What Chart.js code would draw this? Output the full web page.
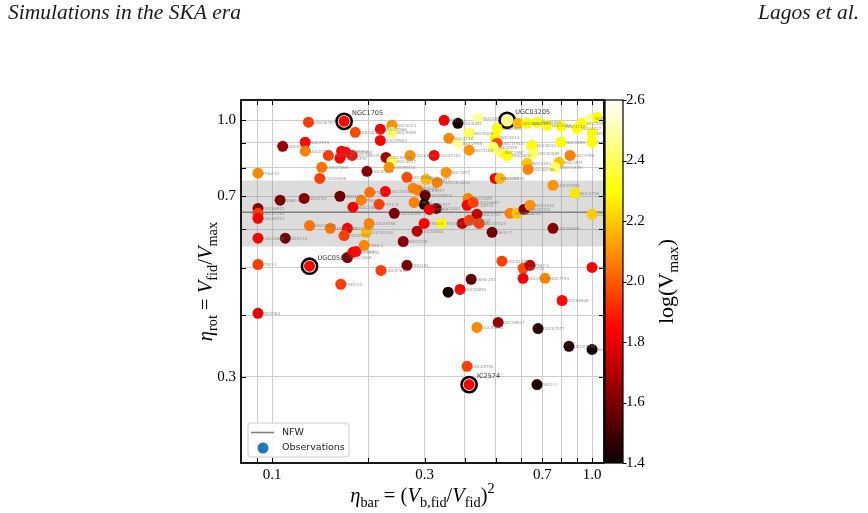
<!DOCTYPE html>
<html>
<head>
<meta charset="utf-8">
<script src="https://cdn.jsdelivr.net/npm/chart.js@4.4.1/dist/chart.umd.min.js"></script>
<style>
  html, body { margin: 0; padding: 0; background: #fff; }
  canvas { display: block; }
</style>
</head>
<body>
<canvas id="chart" width="868" height="513"></canvas>
<script>
// eta_bar = (V_b,fid / V_fid)^2 for each galaxy
const etaBar = [
  0.0904, 0.0904, 0.0904, 0.0904, 0.0904, 0.0904, 0.0904, 0.106, 0.110, 0.108,
  0.127, 0.127, 0.130, 0.126, 0.131, 0.131, 0.141, 0.143, 0.150, 0.152,
  0.163, 0.163, 0.165, 0.168, 0.172, 0.168, 0.164, 0.170, 0.178, 0.172,
  0.179, 0.183, 0.179, 0.182, 0.190, 0.194, 0.197, 0.198, 0.202, 0.226,
  0.216, 0.241, 0.219, 0.264, 0.218, 0.237, 0.237, 0.218, 0.227, 0.237,
  0.232, 0.270, 0.276, 0.286, 0.264, 0.301, 0.299, 0.326, 0.310, 0.278,
  0.299, 0.284, 0.338, 0.257, 0.303, 0.328, 0.350, 0.321, 0.345, 0.381,
  0.413, 0.441, 0.357, 0.381, 0.413, 0.410, 0.201, 0.543, 0.587, 0.627,
  0.673, 0.723, 0.800, 0.898, 0.931, 0.986, 1.000, 1.000, 1.036, 0.505,
  0.498, 0.505, 0.491, 0.516, 0.543, 0.649, 0.654, 0.800, 0.854, 0.627,
  0.631, 0.789, 0.766, 0.498, 0.516, 0.755, 0.885, 1.000, 0.407, 0.425,
  0.437, 0.393, 0.413, 0.444, 0.487, 0.554, 0.583, 0.613, 0.640, 0.755,
  0.523, 0.609, 0.640, 0.609, 0.713, 1.000, 0.419, 0.355, 0.387, 0.806,
  0.509, 0.437, 0.678, 0.847, 1.000, 0.407, 0.413, 0.673
];

// eta_rot = V_fid / V_max
const etaRot = [
  0.780, 0.661, 0.646, 0.631, 0.575, 0.508, 0.404, 0.687, 0.575, 0.885,
  0.902, 0.865, 0.991, 0.693, 0.610, 0.504, 0.761, 0.802, 0.848, 0.602,
  0.700, 0.837, 0.865, 0.995, 0.602, 0.582, 0.463, 0.861, 0.848, 0.525,
  0.538, 0.540, 0.665, 0.945, 0.687, 0.556, 0.591, 0.787, 0.713, 0.716,
  0.674, 0.646, 0.494, 0.506, 0.959, 0.977, 0.945, 0.910, 0.840, 0.825,
  0.802, 0.848, 0.727, 0.720, 0.765, 0.703, 0.674, 0.661, 0.658, 0.680,
  0.616, 0.594, 0.616, 0.566, 0.758, 0.747, 0.783, 0.848, 1.000, 0.986,
  0.941, 1.009, 0.919, 0.898, 0.869, 0.693, 0.616, 1.000, 0.986, 0.986,
  0.990, 0.977, 0.972, 0.963, 0.986, 1.009, 0.941, 0.902, 1.014, 0.963,
  0.923, 0.898, 0.881, 0.861, 0.848, 0.889, 0.856, 0.902, 0.848, 0.817,
  0.794, 0.821, 0.802, 0.761, 0.761, 0.737, 0.710, 0.643, 0.671, 0.680,
  0.643, 0.616, 0.625, 0.616, 0.591, 0.646, 0.646, 0.658, 0.671, 0.602,
  0.516, 0.499, 0.506, 0.476, 0.476, 0.501, 0.474, 0.446, 0.452, 0.429,
  0.387, 0.378, 0.376, 0.346, 0.341, 0.315, 0.289, 0.289
];

// colour: log(V_max)
const logVmax = [
  2.08, 1.62, 1.95, 1.82, 1.82, 1.95, 1.80, 1.60, 1.58, 1.65,
  1.85, 2.07, 1.94, 1.62, 2.04, 1.84, 1.95, 2.04, 1.95, 2.04,
  1.58, 1.82, 1.85, 1.84, 1.82, 1.95, 1.95, 1.85, 1.85, 1.60,
  1.82, 1.85, 1.82, 1.97, 2.07, 2.08, 2.17, 1.62, 2.04, 1.83,
  1.95, 1.60, 1.95, 1.60, 1.82, 2.10, 2.42, 1.83, 1.68, 2.42,
  2.10, 2.10, 2.08, 2.07, 1.97, 1.55, 1.42, 1.58, 1.80, 2.07,
  1.83, 1.70, 2.28, 1.62, 2.17, 2.07, 2.10, 1.83, 1.82, 1.42,
  2.40, 2.48, 2.08, 2.48, 2.10, 2.07, 2.07, 2.45, 2.17, 2.30,
  2.30, 2.30, 2.30, 2.30, 2.30, 2.48, 2.30, 2.30, 2.30, 2.30,
  2.30, 1.97, 2.42, 2.42, 2.30, 2.30, 2.42, 2.30, 2.07, 2.19,
  2.07, 2.19, 2.42, 1.82, 2.17, 2.10, 2.25, 2.20, 1.83, 1.95,
  1.72, 1.72, 1.95, 1.95, 1.58, 2.07, 2.19, 1.60, 2.10, 1.62,
  1.95, 1.97, 1.72, 1.82, 2.08, 1.83, 1.55, 1.42, 1.83, 1.85,
  1.65, 2.08, 1.45, 1.45, 1.42, 1.95, 1.84, 1.42
];

const galaxyNames = [
  'F568-V1', 'UGC06923', 'UGC07261', 'UGC05721', 'UGC12632', 'F583-1', 'DDO064', 'D564-8', 'DDO170', 'UGC07399',
  'NGC2915', 'UGC07125', 'UGC06787', 'DDO154', 'UGC04325', 'UGC05829', 'UGC06446', 'UGC07690', 'UGC07089', 'UGC12732',
  'DDO168', 'UGC04499', 'UGC06930', 'NGC1705', 'UGC11820', 'UGC07232', 'F565-V2', 'UGC02455', 'UGC05918', 'NGC4068',
  'UGC08550', 'F574-2', 'NGC2366', 'UGC08490', 'F563-1', 'F568-3', 'UGC00128', 'UGC00634', 'F568-1', 'UGC10310',
  'F571-8', 'UGC06399', 'UGC07608', 'DDO161', 'UGC07866', 'NGC0024', 'NGC5985', 'UGC07603', 'UGC08286', 'NGC3917',
  'UGC05414', 'UGC06983', 'NGC4100', 'UGC06917', 'UGC05986', 'UGC06818', 'PGC51017', 'UGCA281', 'F574-1', 'F561-1',
  'F583-4', 'UGC04483', 'ESO444-G084', 'NGC3109', 'NGC3877', 'ESO116-G012', 'NGC3972', 'UGC07151', 'F571-V1', 'UGCA442',
  'NGC5005', 'NGC2841', 'NGC4138', 'NGC2998', 'NGC4183', 'NGC4085', 'UGC05764', 'UGC03205', 'NGC0891', 'NGC2683',
  'NGC3893', 'NGC4088', 'NGC4157', 'NGC4217', 'NGC3953', 'NGC5907', 'NGC6674', 'NGC5371', 'NGC7331', 'NGC2903',
  'NGC4013', 'UGC11914', 'NGC2955', 'NGC3992', 'NGC0801', 'NGC5033', 'UGC02885', 'NGC0289', 'NGC3769', 'NGC4051',
  'UGC06786', 'NGC3521', 'UGC11455', 'NGC1090', 'NGC3949', 'UGC03580', 'NGC3726', 'UGC06973', 'UGC05716', 'UGC06667',
  'NGC3741', 'UGC04305', 'F563-V2', 'UGC07323', 'D631-7', 'NGC6015', 'NGC0100', 'UGC00731', 'NGC4010', 'UGC05999',
  'UGC01281', 'F563-V1', 'F567-2', 'UGC01230', 'NGC7793', 'UGC02259', 'KK98-251', 'CamB', 'UGC00891', 'UGC06628',
  'UGC08837', 'UGC09992', 'UGC07577', 'UGC07559', 'NGC6789', 'UGC05750', 'IC2574', 'D512-2'
];

const highlighted = ['NGC1705', 'UGC03205', 'UGC05829', 'IC2574'];

// NFW expectation and its scatter band
const nfwEtaRot = [0.649];
const nfwBand = [0.553, 0.754];

const xRange = [0.08, 1.09];
const yRange = [0.2, 1.1];
const xGridValues = [0.09, 0.1, 0.2, 0.3, 0.4, 0.5, 0.6, 0.7, 0.8, 0.9, 1.0];
const xLabelValues = [0.1, 0.3, 0.7, 1.0];
const yGridValues = [0.3, 0.4, 0.5, 0.6, 0.7, 0.8, 0.9, 1.0];
const yLabelValues = [0.3, 0.7, 1.0];
const cbTicks = [1.4, 1.6, 1.8, 2.0, 2.2, 2.4, 2.6];
const cbRange = [1.4, 2.6];

const serif = '"Liberation Serif", "DejaVu Serif", serif';
const sans = '"DejaVu Sans", sans-serif';

// matplotlib "hot" colormap
function hotT(t) {
  t = Math.min(1, Math.max(0, t));
  const r = t < 0.365079 ? 0.0416 + 0.9584 * t / 0.365079 : 1;
  const g = t < 0.365079 ? 0 : (t < 0.746032 ? (t - 0.365079) / 0.380953 : 1);
  const b = t < 0.746032 ? 0 : (t - 0.746032) / 0.253968;
  return 'rgb(' + Math.round(r * 255) + ',' + Math.round(g * 255) + ',' + Math.round(b * 255) + ')';
}
function hot(v) { return hotT((v - cbRange[0]) / (cbRange[1] - cbRange[0])); }

// draw a small math-like string centred at (x, y)
function drawMath(ctx, parts, x, y, size) {
  const fontFor = st => {
    if (st === 'i') return 'italic ' + size + 'px ' + serif;
    if (st === 's' || st === 'p') return (size * 0.7) + 'px ' + serif;
    return size + 'px ' + serif;
  };
  let w = 0;
  parts.forEach(p => { ctx.font = fontFor(p[1]); w += ctx.measureText(p[0]).width; });
  let cx = x - w / 2;
  ctx.textAlign = 'left';
  ctx.textBaseline = 'alphabetic';
  parts.forEach(p => {
    ctx.font = fontFor(p[1]);
    let dy = 0;
    if (p[1] === 's') dy = size * 0.22;
    if (p[1] === 'p') dy = -size * 0.42;
    ctx.fillText(p[0], cx, y + dy);
    cx += ctx.measureText(p[0]).width;
  });
}

const points = etaBar.map((x, i) => ({ x: x, y: etaRot[i] }));
const ringPoints = [];
galaxyNames.forEach((n, i) => { if (highlighted.includes(n)) ringPoints.push(points[i]); });

const decorPlugin = {
  id: 'decor',
  afterDatasetsDraw(chart) {
    const ctx = chart.ctx;
    const meta = chart.getDatasetMeta(3);
    ctx.save();
    ctx.textAlign = 'left';
    ctx.textBaseline = 'middle';
    meta.data.forEach((el, i) => {
      const name = galaxyNames[i];
      if (highlighted.includes(name)) {
        ctx.font = '6.5px ' + sans;
        ctx.fillStyle = '#333';
        ctx.fillText(name, el.x + 8, el.y - 8);
      } else {
        ctx.font = '4px ' + sans;
        ctx.fillStyle = 'rgba(120,120,120,0.8)';
        ctx.fillText(name, el.x + 5, el.y + 0.5);
      }
    });
    ctx.restore();
  },
  afterDraw(chart) {
    const ctx = chart.ctx;
    const a = chart.chartArea;
    const sx = chart.scales.x, sy = chart.scales.y, sc = chart.scales.y2;
    ctx.save();

    // inward ticks
    ctx.strokeStyle = '#000';
    ctx.lineWidth = 1;
    ctx.beginPath();
    xGridValues.forEach(v => {
      const px = Math.round(sx.getPixelForValue(v)) + 0.5;
      ctx.moveTo(px, a.bottom); ctx.lineTo(px, a.bottom - 5);
      ctx.moveTo(px, a.top); ctx.lineTo(px, a.top + 5);
    });
    yGridValues.forEach(v => {
      const py = Math.round(sy.getPixelForValue(v)) + 0.5;
      ctx.moveTo(a.left, py); ctx.lineTo(a.left + 5, py);
      ctx.moveTo(a.right, py); ctx.lineTo(a.right - 5, py);
    });
    ctx.stroke();

    // frame
    ctx.lineWidth = 1.8;
    ctx.strokeRect(a.left, a.top, a.right - a.left, a.bottom - a.top);

    // colorbar
    const cbL = a.right + 1, cbR = a.right + 19;
    const top = sc.getPixelForValue(cbRange[1]), bot = sc.getPixelForValue(cbRange[0]);
    const grad = ctx.createLinearGradient(0, bot, 0, top);
    for (let k = 0; k <= 60; k++) grad.addColorStop(k / 60, hotT(k / 60));
    ctx.fillStyle = grad;
    ctx.fillRect(cbL, top, cbR - cbL, bot - top);
    ctx.lineWidth = 1.2;
    ctx.strokeRect(cbL, top, cbR - cbL, bot - top);
    ctx.lineWidth = 1;
    ctx.beginPath();
    cbTicks.forEach(v => {
      const py = Math.round(sc.getPixelForValue(v)) + 0.5;
      ctx.moveTo(cbR, py); ctx.lineTo(cbR + 3.5, py);
    });
    ctx.stroke();

    // axis titles
    ctx.fillStyle = '#000';
    drawMath(ctx, [['η', 'i'], ['bar', 's'], [' = (', 'r'], ['V', 'i'], ['b,fid', 's'], ['/', 'r'],
      ['V', 'i'], ['fid', 's'], [')', 'r'], ['2', 'p']], (a.left + a.right) / 2, 502, 20.5);
    ctx.save();
    ctx.translate(212, (a.top + a.bottom) / 2);
    ctx.rotate(-Math.PI / 2);
    drawMath(ctx, [['η', 'i'], ['rot', 's'], [' = ', 'r'], ['V', 'i'], ['fid', 's'], ['/', 'r'],
      ['V', 'i'], ['max', 's']], 0, 0, 20.5);
    ctx.restore();
    ctx.save();
    ctx.translate(673, (a.top + a.bottom) / 2);
    ctx.rotate(-Math.PI / 2);
    drawMath(ctx, [['log(V', 'r'], ['max', 's'], [')', 'r']], 0, 0, 22);
    ctx.restore();

    // running header
    ctx.font = 'italic 21.5px ' + serif;
    ctx.fillStyle = '#1a1a1a';
    ctx.textBaseline = 'alphabetic';
    ctx.textAlign = 'left';
    ctx.fillText('Simulations in the SKA era', 8, 19);
    ctx.textAlign = 'right';
    ctx.fillText('Lagos et al.', 859, 19);

    // legend
    const lx = a.left + 7, ly = a.bottom - 40, lw = 101, lh = 34;
    ctx.beginPath();
    ctx.roundRect(lx, ly, lw, lh, 3);
    ctx.fillStyle = 'rgba(255,255,255,0.85)';
    ctx.fill();
    ctx.strokeStyle = '#cccccc';
    ctx.lineWidth = 1;
    ctx.stroke();
    ctx.strokeStyle = '#7f7f7f';
    ctx.lineWidth = 1.5;
    ctx.beginPath();
    ctx.moveTo(lx + 3, ly + 9.5); ctx.lineTo(lx + 26, ly + 9.5);
    ctx.stroke();
    ctx.fillStyle = '#1f77b4';
    ctx.beginPath();
    ctx.arc(lx + 15, ly + 25, 5.5, 0, Math.PI * 2);
    ctx.fill();
    ctx.fillStyle = '#222';
    ctx.font = '9.5px ' + sans;
    ctx.textAlign = 'left';
    ctx.textBaseline = 'middle';
    ctx.fillText('NFW', lx + 34, ly + 9.5);
    ctx.fillText('Observations', lx + 34, ly + 25);
    ctx.restore();
  }
};

new Chart(document.getElementById('chart').getContext('2d'), {
  type: 'scatter',
  data: {
    datasets: [
      {
        type: 'line',
        data: [{ x: xRange[0], y: nfwBand[1] }, { x: xRange[1], y: nfwBand[1] }],
        borderWidth: 0, pointRadius: 0, fill: false, order: 5
      },
      {
        type: 'line',
        data: [{ x: xRange[0], y: nfwBand[0] }, { x: xRange[1], y: nfwBand[0] }],
        borderWidth: 0, pointRadius: 0, fill: '-1',
        backgroundColor: 'rgba(128,128,128,0.28)', order: 4
      },
      {
        type: 'line',
        data: [{ x: xRange[0], y: nfwEtaRot[0] }, { x: xRange[1], y: nfwEtaRot[0] }],
        borderColor: '#7f7f7f', borderWidth: 1.5, pointRadius: 0, fill: false, order: 3
      },
      {
        data: points,
        backgroundColor: logVmax.map(hot),
        pointRadius: 5.5, pointBorderWidth: 0, pointHoverRadius: 5.5, order: 0
      },
      {
        data: ringPoints,
        backgroundColor: '#ffffff', borderColor: '#000000',
        pointRadius: 7.6, pointBorderWidth: 2.6, order: 1
      }
    ]
  },
  options: {
    responsive: false,
    animation: false,
    devicePixelRatio: 1,
    layout: { padding: { top: 100, left: 0, right: 0, bottom: 0 } },
    plugins: { legend: { display: false }, tooltip: { enabled: false } },
    events: [],
    scales: {
      x: {
        type: 'logarithmic', min: xRange[0], max: xRange[1],
        afterBuildTicks: s => { s.ticks = xGridValues.map(v => ({ value: v })); },
        afterFit: s => { s.height = 50; },
        ticks: {
          autoSkip: false, maxRotation: 0, minRotation: 0, padding: 3, color: '#000',
          font: { family: serif, size: 15 },
          callback: v => xLabelValues.includes(v) ? v.toFixed(1) : ''
        },
        grid: { color: '#cccccc', lineWidth: 1, drawTicks: false },
        border: { display: false }
      },
      y: {
        type: 'logarithmic', min: yRange[0], max: yRange[1],
        afterBuildTicks: s => { s.ticks = yGridValues.map(v => ({ value: v })); },
        afterFit: s => { s.width = 241; },
        ticks: {
          autoSkip: false, padding: 5, color: '#000',
          font: { family: serif, size: 15 },
          callback: v => yLabelValues.includes(v) ? v.toFixed(1) : ''
        },
        grid: { color: '#cccccc', lineWidth: 1, drawTicks: false },
        border: { display: false }
      },
      y2: {
        type: 'linear', position: 'right', min: cbRange[0], max: cbRange[1],
        afterBuildTicks: s => { s.ticks = cbTicks.map(v => ({ value: v })); },
        afterFit: s => { s.width = 264; },
        ticks: {
          autoSkip: false, padding: 3, color: '#000',
          font: { family: serif, size: 15 },
          callback: v => v.toFixed(1)
        },
        grid: { drawOnChartArea: false, drawTicks: true, tickLength: 19, tickColor: 'rgba(0,0,0,0)' },
        border: { display: false }
      }
    }
  },
  plugins: [decorPlugin]
});
</script>
</body>
</html>
